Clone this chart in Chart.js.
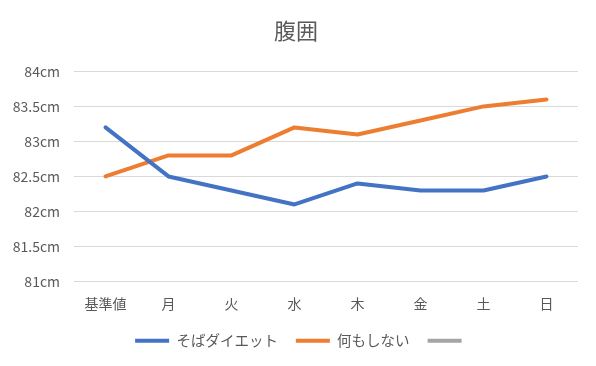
<!DOCTYPE html>
<html><head><meta charset="utf-8">
<script src="https://cdn.jsdelivr.net/npm/chart.js@4"></script>
<style>html,body{margin:0;padding:0;background:#fff}#w{width:596px;height:366px}</style>
</head><body><div id="w"><canvas id="c"></canvas></div>
<script>
const categories = ["基準値","月","火","水","木","金","土","日"];
const sobaDiet = [83.2,82.5,82.3,82.1,82.4,82.3,82.3,82.5];
const nothing = [82.5,82.8,82.8,83.2,83.1,83.3,83.5,83.6];
const seriesNames = ["そばダイエット","何もしない",""];
const yTicks = [81,81.5,82,82.5,83,83.5,84];
const FONT = "'Noto Sans CJK JP','Noto Sans',sans-serif";
const mk = (label, data, color) => ({label, data, borderColor: color, backgroundColor: color, borderWidth: 4, pointRadius: 0, pointHoverRadius: 0, borderCapStyle: 'round', borderJoinStyle: 'round', tension: 0, fill: false});
const shiftBoxes = { id: 'shiftBoxes', afterLayout(chart) {
  const l = chart.legend; if (l) { l.left += 13; l.right += 13; l.top -= 5; l.bottom -= 5; }
  const t = chart.titleBlock; if (t) { t.left += 7; t.right += 7; }
}};
new Chart(document.getElementById('c'), {
  type: 'line',
  data: { labels: categories, datasets: [
    mk(seriesNames[0], sobaDiet, '#4472C4'),
    mk(seriesNames[1], nothing, '#ED7D31'),
    mk(seriesNames[2], [], '#A5A5A5')
  ]},
  plugins: [shiftBoxes],
  options: {
    responsive: true, maintainAspectRatio: false, animation: false,
    layout: { padding: { left: 0, right: 18, top: 0, bottom: 3 } },
    plugins: {
      title: { display: true, text: '腹囲', color: '#595959', font: { family: FONT, size: 22, weight: 'normal' }, padding: { top: 17, bottom: 28 } },
      legend: { position: 'bottom', labels: { color: '#595959', font: { family: FONT, size: 14.5 }, usePointStyle: true, pointStyle: 'line', pointStyleWidth: 34, boxHeight: 13, padding: 18 } },
      tooltip: { enabled: false }
    },
    scales: {
      x: { offset: true, grid: { display: false, drawTicks: false }, border: { display: false },
           afterFit: s => { s.height = 39; },
           ticks: { color: '#595959', font: { family: FONT, size: 14 }, padding: 14, maxRotation: 0 } },
      y: { min: 81, max: 84, afterBuildTicks: s => { s.ticks = yTicks.map(v => ({value: v})); },
           afterFit: s => { s.width = 74; },
           grid: { color: '#D9D9D9', lineWidth: 1, drawTicks: false }, border: { display: false },
           ticks: { color: '#595959', font: { family: FONT, size: 14 }, padding: 14, callback: v => v + 'cm' } }
    }
  }
});
</script></body></html>
